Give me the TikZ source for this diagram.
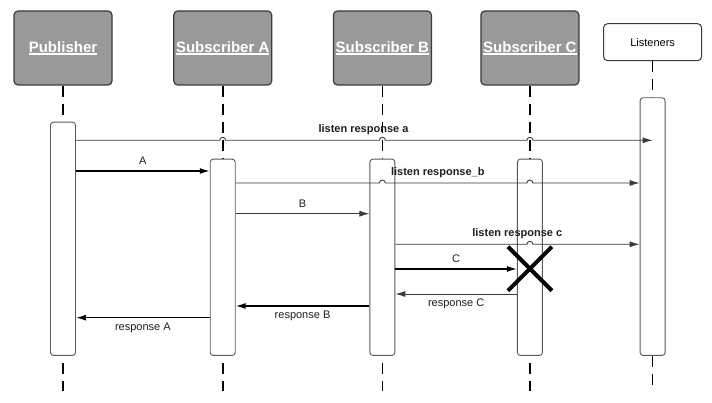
\documentclass[tikz,border=0pt]{standalone}
\usepackage{fontspec}
\setmainfont{Liberation Sans}
\usepackage{tikz}
\usetikzlibrary{arrows.meta,shapes.misc}

\definecolor{hdgray}{HTML}{999999}
\definecolor{edgegray}{HTML}{3A3A3A}
\definecolor{txtgray}{HTML}{1E1E1E}

\newcommand{\hdul}[1]{\setbox0=\hbox{#1}\rlap{\rule[-2.6pt]{\wd0}{1.3pt}}\box0}

\tikzset{
  hdbox/.style={draw=edgegray, fill=hdgray, line width=1.2pt, rounded corners=4pt,
    minimum width=98pt, minimum height=74pt, inner sep=0pt, text=white,
    font=\fontsize{15}{18}\selectfont\bfseries},
  lsbox/.style={draw=edgegray, fill=white, line width=1pt, rounded corners=4pt,
    minimum width=98pt, minimum height=37pt, font=\fontsize{11}{13}\selectfont},
  actbox/.style={draw=edgegray!85, fill=white, line width=0.9pt, rounded corners=3pt,
    minimum width=25pt, inner sep=0pt, anchor=north},
  life/.style={line width=1.6pt, dash pattern=on 11pt off 7pt},
  msg/.style={line width=1.4pt, -{Latex[length=10pt,width=6pt]}},
  thinmsg/.style={line width=0.9pt, draw=edgegray, -{Latex[length=10pt,width=6pt]}},
  lbl/.style={font=\fontsize{11}{13}\selectfont, text=txtgray},
  blbl/.style={font=\fontsize{11}{13}\selectfont\bfseries, text=txtgray}
}

\begin{document}
\begin{tikzpicture}[x=1pt,y=1pt]
        \useasboundingbox (0,0) rectangle (712,403);

        %Heads
        \node[hdbox] (hdP) at (63,355) {\hdul{Publisher}};
        \node[hdbox] (hdA) at (222.7,355) {\hdul{Subscriber A}};
        \node[hdbox] (hdB) at (382.4,355) {\hdul{Subscriber B}};
        \node[hdbox] (hdC) at (529.9,355) {\hdul{Subscriber C}};
        \node[lsbox] (hdL) at (652.6,360.8) {Listeners};

        %Lifelines
        \draw[life] (hdP.south) -- (hdP |- 0,281.3);
        \draw[life] (hdA.south) -- (hdA |- 0,244.3);
        \draw[life] (hdB.south) -- (hdB |- 0,244.3);
        \draw[life] (hdC.south) -- (hdC |- 0,244.3);
        \draw[life] (hdL.south) -- (hdL |- 0,305.7);
        \coordinate (endP) at (hdP |- 0,12);
        \coordinate (endA) at (hdA |- 0,12);
        \coordinate (endB) at (hdB |- 0,12);
        \coordinate (endC) at (hdC |- 0,12);
        \coordinate (endL) at (hdL |- 0,18);

        %Activation bars
        \node[actbox, minimum height=233.3pt] (actP) at (hdP |- 0,281.3) {};
        \node[actbox, minimum height=196.3pt] (actA) at (hdA |- 0,244.3) {};
        \node[actbox, minimum height=196.3pt] (actB) at (hdB |- 0,244.3) {};
        \node[actbox, minimum height=196.3pt] (actC) at (hdC |- 0,244.3) {};
        \node[actbox, minimum height=257.7pt] (actL) at (hdL |- 0,305.7) {};

        \draw[life, dash phase=11pt] (actP.south) -- (endP);
        \draw[life, dash phase=11pt] (actA.south) -- (endA);
        \draw[life, dash phase=11pt] (actB.south) -- (endB);
        \draw[life, dash phase=11pt] (actC.south) -- (endC);
        \draw[life] (actL.south) -- (endL);

        %listen response a
        \draw[thinmsg] (actP.east |- 0,262.7)
          -- ([xshift=-3pt]hdA.south |- 0,262.7) arc[start angle=180, end angle=0, radius=3pt]
          -- ([xshift=-3pt]hdB.south |- 0,262.7) arc[start angle=180, end angle=0, radius=3pt]
          -- ([xshift=-3pt]hdC.south |- 0,262.7) arc[start angle=180, end angle=0, radius=3pt]
          -- (actL.center |- 0,262.7);

        %A
        \draw[msg] (actP.east |- 0,232) -- (actA.west |- 0,232)
          node[lbl, midway, above=2.4pt] (lA) {A};

        %listen response b
        \draw[thinmsg] (actA.east |- 0,220)
          -- ([xshift=-3pt]hdB.south |- 0,220) arc[start angle=180, end angle=0, radius=3pt]
          -- ([xshift=-3pt]hdC.south |- 0,220) arc[start angle=180, end angle=0, radius=3pt]
          -- (actL.west |- 0,220);

        %B
        \draw[thinmsg] (actA.east |- 0,189.3) -- (actB.west |- 0,189.3)
          node[lbl, midway, above=2.4pt] (lB) {B};

        %listen response c
        \draw[thinmsg] (actB.east |- 0,158.7)
          -- ([xshift=-3pt]hdC.south |- 0,158.7) arc[start angle=180, end angle=0, radius=3pt]
          -- (actL.west |- 0,158.7);

        %C
        \draw[msg] (actB.east |- 0,134) -- (actC.west |- 0,134)
          node[lbl, midway, above=2.4pt] (lC) {C};
        \node[draw, cross out, line width=4pt, minimum size=40pt, inner sep=0pt] (xC) at (hdC |- 0,134.3) {};

        %Responses
        \draw[thinmsg] (actC.west |- 0,109) -- (actB.east |- 0,109)
          node[lbl, midway, below=1pt] (lrC) {response C};
        \draw[msg] (actB.west |- 0,97) -- (actA.east |- 0,97)
          node[lbl, midway, below=1pt] (lrB) {response B};
        \draw[msg] (actA.west |- 0,85.3) -- (actP.east |- 0,85.3)
          node[lbl, midway, below=1pt] (lrA) {response A};

        %Listen labels
        \node[blbl] (lra) at (363.5,273) {listen response a};
        \node[blbl] (lrb) at (437.8,230.3) {listen response\_b};
        \node[blbl] (lrc) at (517.3,169.3) {listen response c};

\end{tikzpicture}
\end{document}
